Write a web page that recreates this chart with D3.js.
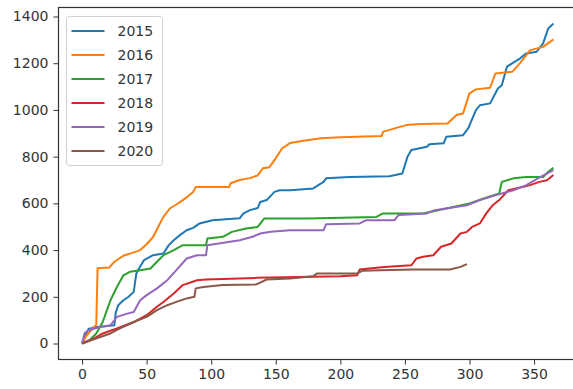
<!DOCTYPE html>
<html>
<head>
<meta charset="utf-8">
<script src="https://cdn.jsdelivr.net/npm/d3@7"></script>
<style>
  body { margin: 0; background: #fff; }
  text { font-family: "DejaVu Sans", sans-serif; fill: #333; }
</style>
</head>
<body>
<div id="chart"></div>
<script>
// cumulative counts per day of year, [day, total]
var s2015 = [[0,0],[3,40],[5,62],[10,70],[20,75],[25,78],[26,130],[28,164],[32,185],[36,200],[40,221],[42,300],[45,330],[48,357],[55,378],[63,385],[67,420],[71,442],[76,465],[81,485],[86,495],[91,514],[101,528],[122,536],[125,557],[130,571],[136,580],[138,606],[143,614],[149,649],[153,656],[161,656],[179,664],[187,692],[189,707],[207,713],[238,716],[248,728],[252,800],[255,828],[267,842],[269,853],[280,857],[282,885],[295,892],[299,921],[305,999],[308,1020],[316,1028],[322,1092],[325,1106],[329,1185],[333,1199],[339,1220],[344,1242],[352,1249],[357,1285],[361,1349],[365,1370]];
var s2016 = [[0,0],[3,30],[6,50],[10,75],[11,80],[12,322],[21,325],[25,350],[29,365],[33,378],[40,390],[45,400],[50,425],[55,456],[59,500],[63,542],[68,578],[73,595],[78,614],[82,630],[86,649],[88,670],[114,670],[115,686],[122,700],[130,708],[136,720],[140,750],[145,755],[149,785],[155,836],[161,858],[169,866],[185,879],[200,883],[232,888],[233,906],[242,921],[251,935],[262,940],[283,942],[290,978],[295,985],[300,1071],[305,1088],[316,1095],[320,1156],[333,1163],[339,1199],[347,1256],[357,1270],[365,1302]];
var s2017 = [[0,0],[6,15],[11,43],[16,92],[19,140],[22,185],[27,242],[32,292],[37,307],[45,314],[53,321],[58,350],[63,378],[71,400],[78,421],[96,421],[97,450],[109,457],[116,478],[127,492],[136,499],[141,535],[174,535],[228,542],[233,557],[264,557],[282,578],[300,600],[311,621],[323,642],[325,692],[334,707],[344,713],[357,713],[361,735],[365,752]];
var s2018 = [[0,0],[9,21],[16,43],[27,64],[40,92],[50,121],[58,157],[63,178],[71,214],[78,250],[89,271],[96,274],[135,281],[200,288],[213,292],[215,317],[234,328],[255,335],[259,364],[264,371],[272,378],[278,414],[286,428],[293,471],[298,478],[302,499],[308,514],[313,557],[318,592],[323,614],[330,656],[336,664],[347,678],[354,692],[360,699],[365,721]];
var s2019 = [[0,0],[2,45],[5,57],[14,71],[22,78],[27,114],[35,128],[40,135],[45,185],[50,207],[58,236],[66,271],[73,314],[81,364],[89,378],[96,378],[97,421],[122,442],[132,457],[138,471],[146,478],[161,485],[187,485],[189,511],[215,514],[220,528],[242,528],[245,550],[267,557],[273,571],[282,578],[298,592],[308,614],[320,635],[334,656],[344,678],[355,713],[365,742]];
var s2020 = [[0,0],[14,28],[22,43],[29,64],[40,92],[50,114],[58,143],[66,164],[73,178],[81,193],[87,200],[88,236],[94,242],[109,250],[135,253],[143,274],[161,278],[179,288],[182,300],[213,300],[217,311],[231,314],[256,317],[285,317],[293,328],[298,340]];

var years = ['2015', '2016', '2017', '2018', '2019', '2020'];
var xTicks = [0, 50, 100, 150, 200, 250, 300, 350];
var yTicks = [0, 200, 400, 600, 800, 1000, 1200, 1400];

var series = [s2015, s2016, s2017, s2018, s2019, s2020];
var colours = ['#1f77b4', '#ff7f0e', '#2ca02c', '#d62728', '#9467bd', '#8c564b'];

var width = 573, height = 389;
var plot = {left: 58.5, right: 577, top: 7.5, bottom: 359.5};

// matplotlib style 5% margins
var all = d3.merge(series);
var xExt = d3.extent(all, function(d) { return d[0]; });
var yExt = d3.extent(all, function(d) { return d[1]; });
var xPad = (xExt[1] - xExt[0]) * 0.05, yPad = (yExt[1] - yExt[0]) * 0.05;

var x = d3.scaleLinear().domain([xExt[0] - xPad, xExt[1] + xPad]).range([plot.left, plot.right]);
var y = d3.scaleLinear().domain([yExt[0] - yPad, yExt[1] + yPad]).range([plot.bottom, plot.top]);

var svg = d3.select('#chart').append('svg')
    .attr('width', width)
    .attr('height', height);

var line = d3.line()
    .x(function(d) { return x(d[0]); })
    .y(function(d) { return y(d[1]); });

svg.selectAll('.series')
    .data(series)
    .enter()
    .append('path')
    .attr('class', 'series')
    .attr('d', line)
    .attr('fill', 'none')
    .attr('stroke', function(d, i) { return colours[i]; })
    .attr('stroke-width', 2)
    .attr('stroke-linejoin', 'round');

// axes
var fmt = d3.format('d');
var xAxis = svg.append('g')
    .attr('transform', 'translate(0,' + plot.bottom + ')')
    .call(d3.axisBottom(x).tickValues(xTicks).tickFormat(fmt).tickSize(5).tickPadding(5));
var yAxis = svg.append('g')
    .attr('transform', 'translate(' + plot.left + ',0)')
    .call(d3.axisLeft(y).tickValues(yTicks).tickFormat(fmt).tickSize(5).tickPadding(5));

[xAxis, yAxis].forEach(function(ax) {
    ax.attr('font-size', 14).attr('font-family', '"DejaVu Sans", sans-serif');
    ax.select('.domain').remove();
    ax.selectAll('line').attr('stroke', '#333').attr('stroke-width', 1);
    ax.selectAll('text').style('fill', '#333');
});

// frame
svg.append('rect')
    .attr('x', plot.left).attr('y', plot.top)
    .attr('width', plot.right - plot.left).attr('height', plot.bottom - plot.top)
    .attr('fill', 'none')
    .attr('stroke', '#333')
    .attr('stroke-width', 1.2);

// legend
var legend = svg.append('g').attr('transform', 'translate(66.5,16.5)');
legend.append('rect')
    .attr('width', 96).attr('height', 149)
    .attr('rx', 3)
    .attr('fill', '#fff').attr('fill-opacity', 0.8)
    .attr('stroke', '#d0d0d0');

var items = legend.selectAll('.item')
    .data(years)
    .enter()
    .append('g')
    .attr('class', 'item')
    .attr('transform', function(d, i) { return 'translate(0,' + (14.5 + i * 24) + ')'; });
items.append('line')
    .attr('x1', 5).attr('x2', 38)
    .attr('stroke', function(d, i) { return colours[i]; })
    .attr('stroke-width', 2);
items.append('text')
    .attr('x', 51).attr('dy', '0.35em')
    .attr('font-size', 14)
    .text(function(d) { return d; });
</script>
</body>
</html>
